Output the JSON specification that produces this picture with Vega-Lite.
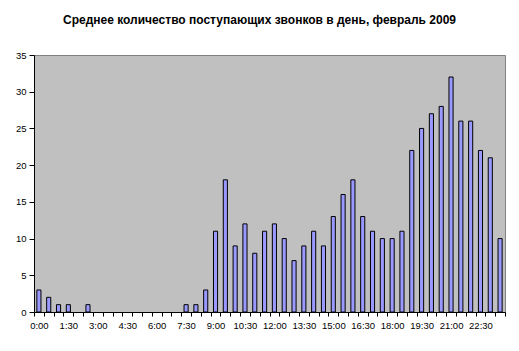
{
  "$schema": "https://vega.github.io/schema/vega-lite/v6.json",
  "width": 471,
  "height": 257,
  "autosize": "none",
  "padding": {"left": 34, "top": 55, "right": 14, "bottom": 39},
  "background": "white",
  "title": {
    "text": "Среднее количество поступающих звонков в день, февраль 2009",
    "font": "Liberation Sans",
    "fontSize": 12,
    "fontWeight": "bold",
    "color": "black",
    "anchor": "middle",
    "offset": 23,
    "dx": -10
  },
  "data": {
    "values": [
      {"t": "0:00", "v": 3}, {"t": "0:30", "v": 2}, {"t": "1:00", "v": 1}, {"t": "1:30", "v": 1},
      {"t": "2:00", "v": 0}, {"t": "2:30", "v": 1}, {"t": "3:00", "v": 0}, {"t": "3:30", "v": 0},
      {"t": "4:00", "v": 0}, {"t": "4:30", "v": 0}, {"t": "5:00", "v": 0}, {"t": "5:30", "v": 0},
      {"t": "6:00", "v": 0}, {"t": "6:30", "v": 0}, {"t": "7:00", "v": 0}, {"t": "7:30", "v": 1},
      {"t": "8:00", "v": 1}, {"t": "8:30", "v": 3}, {"t": "9:00", "v": 11}, {"t": "9:30", "v": 18},
      {"t": "10:00", "v": 9}, {"t": "10:30", "v": 12}, {"t": "11:00", "v": 8}, {"t": "11:30", "v": 11},
      {"t": "12:00", "v": 12}, {"t": "12:30", "v": 10}, {"t": "13:00", "v": 7}, {"t": "13:30", "v": 9},
      {"t": "14:00", "v": 11}, {"t": "14:30", "v": 9}, {"t": "15:00", "v": 13}, {"t": "15:30", "v": 16},
      {"t": "16:00", "v": 18}, {"t": "16:30", "v": 13}, {"t": "17:00", "v": 11}, {"t": "17:30", "v": 10},
      {"t": "18:00", "v": 10}, {"t": "18:30", "v": 11}, {"t": "19:00", "v": 22}, {"t": "19:30", "v": 25},
      {"t": "20:00", "v": 27}, {"t": "20:30", "v": 28}, {"t": "21:00", "v": 32}, {"t": "21:30", "v": 26},
      {"t": "22:00", "v": 26}, {"t": "22:30", "v": 22}, {"t": "23:00", "v": 21}, {"t": "23:30", "v": 10}
    ]
  },
  "mark": {
    "type": "bar",
    "fill": "#9999FF",
    "stroke": "black",
    "strokeWidth": 1,
    "width": {"band": 0.42}
  },
  "encoding": {
    "x": {
      "field": "t",
      "type": "ordinal",
      "sort": null,
      "scale": {"paddingInner": 0, "paddingOuter": 0},
      "axis": {
        "title": null,
        "labelAngle": 0,
        "tickBand": "extent",
        "labelExpr": "(toNumber(split(datum.value, ':')[0]) * 60 + toNumber(split(datum.value, ':')[1])) % 90 == 0 ? datum.value : ''",
        "labelFont": "Liberation Sans",
        "labelFontSize": 9.5,
        "labelColor": "black",
        "labelPadding": 4,
        "labelOverlap": false,
        "domainColor": "black",
        "tickColor": "black",
        "tickSize": 4,
        "grid": false
      }
    },
    "y": {
      "field": "v",
      "type": "quantitative",
      "scale": {"domain": [0, 35], "nice": false},
      "axis": {
        "title": null,
        "values": [0, 5, 10, 15, 20, 25, 30, 35],
        "labelFont": "Liberation Sans",
        "labelFontSize": 9.5,
        "labelColor": "black",
        "labelPadding": 3,
        "domainColor": "black",
        "tickColor": "black",
        "tickSize": 5,
        "grid": false
      }
    },
    "strokeOpacity": {
      "condition": {"test": "datum.v == 0", "value": 0},
      "value": 1
    }
  },
  "config": {
    "view": {"fill": "#C0C0C0", "stroke": "#808080", "strokeWidth": 1}
  }
}
